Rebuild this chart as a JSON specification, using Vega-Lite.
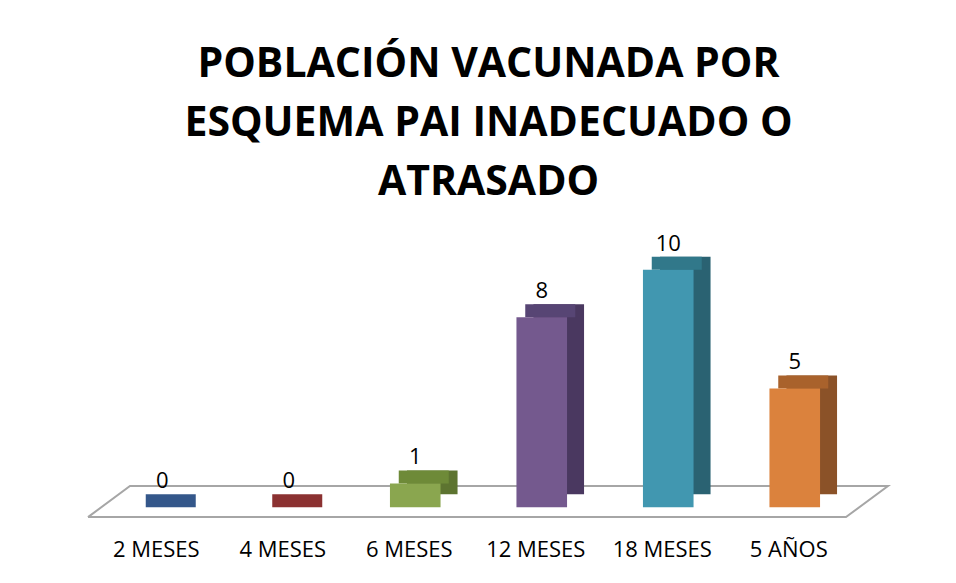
{
  "$schema": "https://vega.github.io/schema/vega-lite/v6.json",
  "autosize": "none",
  "width": 759,
  "height": 273,
  "padding": {"left": 99, "top": 246, "right": 98, "bottom": 64},
  "background": "white",
  "config": {"view": {"stroke": null}, "font": "Open Sans"},
  "title": {
    "text": ["POBLACIÓN VACUNADA POR", "ESQUEMA PAI INADECUADO O", "ATRASADO"],
    "font": "Open Sans",
    "fontSize": 41,
    "fontWeight": "bold",
    "lineHeight": 59,
    "anchor": "middle",
    "frame": "group",
    "dx": 10,
    "offset": 29,
    "color": "#000000"
  },
  "datasets": {
    "bars": [
      {"cat": "2 MESES", "value": 0},
      {"cat": "4 MESES", "value": 0},
      {"cat": "6 MESES", "value": 1},
      {"cat": "12 MESES", "value": 8},
      {"cat": "18 MESES", "value": 10},
      {"cat": "5 AÑOS", "value": 5}
    ],
    "floor": [
      {"fx": -0.587, "fy": -0.42, "o": 1},
      {"fx": 5.405, "fy": -0.42, "o": 2},
      {"fx": 5.737, "fy": 0.89, "o": 3},
      {"fx": -0.255, "fy": 0.89, "o": 4},
      {"fx": -0.587, "fy": -0.42, "o": 5}
    ]
  },
  "layer": [
    {
      "data": {"name": "floor"},
      "mark": {"type": "line", "color": "#a6a6a6", "strokeWidth": 2, "clip": false},
      "encoding": {
        "x": {"field": "fx", "type": "quantitative", "scale": {"domain": [-0.5, 5.5], "nice": false, "zero": false}, "axis": null},
        "y": {"field": "fy", "type": "quantitative", "scale": {"domain": [-0.5, 11], "nice": false, "zero": false}, "axis": null},
        "order": {"field": "o"}
      }
    },
    {
      "data": {"name": "bars"},
      "layer": [
        {
          "mark": {"type": "bar", "xOffset": 17, "x2Offset": 17, "yOffset": -13, "y2Offset": -13},
          "encoding": {
            "color": {"field": "cat", "type": "nominal", "legend": null,
              "scale": {"domain": ["2 MESES", "4 MESES", "6 MESES", "12 MESES", "18 MESES", "5 AÑOS"],
                "range": ["#2c4f7a", "#7a2a2a", "#5d7430", "#4a3860", "#2a6272", "#8b5228"]}}
          }
        },
        {
          "mark": {"type": "tick", "thickness": 13, "size": 50, "xOffset": 8.5, "yOffset": -6.5, "opacity": 1},
          "encoding": {
            "color": {"field": "cat", "type": "nominal", "legend": null,
              "scale": {"domain": ["2 MESES", "4 MESES", "6 MESES", "12 MESES", "18 MESES", "5 AÑOS"],
                "range": ["#34578a", "#8b3131", "#6e8a38", "#574574", "#31788a", "#a9622c"]}}
          }
        },
        {
          "mark": {"type": "bar"},
          "encoding": {
            "color": {"field": "cat", "type": "nominal", "legend": null,
              "scale": {"domain": ["2 MESES", "4 MESES", "6 MESES", "12 MESES", "18 MESES", "5 AÑOS"],
                "range": ["#4f81bd", "#c0504d", "#8aa64f", "#74598e", "#4197b0", "#db823d"]}}
          }
        },
        {
          "mark": {"type": "text", "dy": -26, "fontSize": 22, "font": "Open Sans", "color": "#000000"},
          "encoding": {"text": {"field": "value", "type": "quantitative"}}
        }
      ],
      "resolve": {"scale": {"color": "independent"}},
      "encoding": {
        "x": {"field": "cat", "type": "nominal", "sort": null,
          "scale": {"paddingInner": 0.6, "paddingOuter": 0.3},
          "axis": {"title": null, "domain": false, "ticks": false, "labelAngle": 0, "labelFontSize": 22, "labelFont": "Open Sans", "labelColor": "#000000", "labelPadding": 20, "labelOffset": -6}},
        "y": {"field": "value", "type": "quantitative", "axis": null}
      }
    }
  ],
  "resolve": {"scale": {"x": "independent", "color": "independent"}}
}
